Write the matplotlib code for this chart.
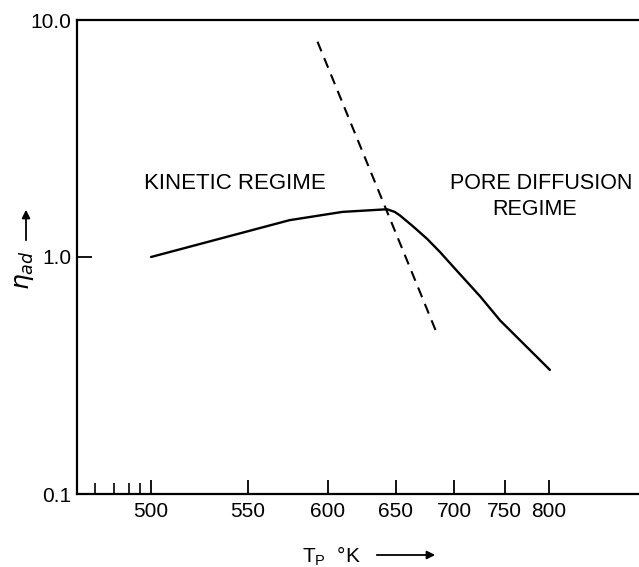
import numpy as np
import matplotlib.pyplot as plt
from matplotlib.ticker import FixedLocator, NullLocator

plt.rcParams['font.family'] = ['Liberation Sans', 'DejaVu Sans']
plt.rcParams['mathtext.fontset'] = 'dejavusans'

# solid curve: effectiveness factor vs particle temperature
T_solid = [500, 575, 610, 643, 649, 653, 664, 676, 687, 699, 725, 745, 801]
eta_solid = [1.0, 1.43, 1.55, 1.59, 1.55, 1.50, 1.345, 1.19, 1.05, 0.91, 0.68, 0.54, 0.334]

# dashed line separating the regimes
T_dash = [593, 684]
eta_dash = [8.1, 0.48]

xticks = [500, 550, 600, 650, 700, 750, 800]
xminor = [475, 483, 490, 495]
yticks = [0.1, 1.0, 10.0]
ytick_labels = ['0.1', '1.0', '10.0']

fig = plt.figure(figsize=(6.39, 5.67), dpi=100)
ax = fig.add_axes([77/639, 73/567, 1 - 77/639, 474/567])

# reciprocal temperature axis
ax.set_xscale('function', functions=(lambda t: -1000.0/np.asarray(t, float),
                                     lambda u: -1000.0/np.asarray(u, float)))
ax.set_yscale('log')

ax.plot(T_solid, eta_solid, color='k', lw=1.7, solid_joinstyle='round',
        solid_capstyle='round')
ax.plot(T_dash, eta_dash, color='k', lw=1.5, linestyle=(0, (5, 3.5)))

ax.set_xlim(467.4, 925.5)
ax.set_ylim(0.1, 10.0)

ax.xaxis.set_major_locator(FixedLocator(xticks))
ax.xaxis.set_minor_locator(FixedLocator(xminor))
ax.set_xticklabels([str(t) for t in xticks])
ax.yaxis.set_major_locator(FixedLocator(yticks))
ax.yaxis.set_minor_locator(NullLocator())
ax.set_yticklabels(ytick_labels)

ax.tick_params(which='major', direction='in', length=10, width=1.3, labelsize=15, pad=6)
ax.tick_params(which='minor', direction='in', length=8, width=1.2)
ax.tick_params(axis='y', which='major', length=11, pad=4)
ax.tick_params(top=False, right=False)

for s in ['left', 'bottom', 'top']:
    ax.spines[s].set_linewidth(1.6)
ax.spines['right'].set_visible(False)

ax.text(0.281, 0.656, 'KINETIC REGIME', fontsize=16, ha='center', va='center',
        transform=ax.transAxes)
ax.text(0.988, 0.656, 'PORE DIFFUSION', fontsize=15.5, ha='right', va='center',
        transform=ax.transAxes)
ax.text(0.815, 0.600, 'REGIME', fontsize=15.5, ha='center', va='center',
        transform=ax.transAxes)

# axis labels with arrows
fig.text(331/639, 1 - 556/567, r'T$_\mathregular{P}$  °K', fontsize=15,
         ha='center', va='center')
ax.annotate('', xy=(438/639, 1 - 555/567), xytext=(374/639, 1 - 555/567),
            xycoords='figure fraction', textcoords='figure fraction',
            arrowprops=dict(arrowstyle='-|>', lw=1.3, color='k', mutation_scale=12))

fig.text(24/639, 1 - 270/567, r'$\eta_{ad}$', fontsize=18, rotation=90,
         ha='center', va='center')
ax.annotate('', xy=(26/639, 1 - 207/567), xytext=(26/639, 1 - 243/567),
            xycoords='figure fraction', textcoords='figure fraction',
            arrowprops=dict(arrowstyle='-|>', lw=1.3, color='k', mutation_scale=12))

fig.savefig('out.png', dpi=100)
